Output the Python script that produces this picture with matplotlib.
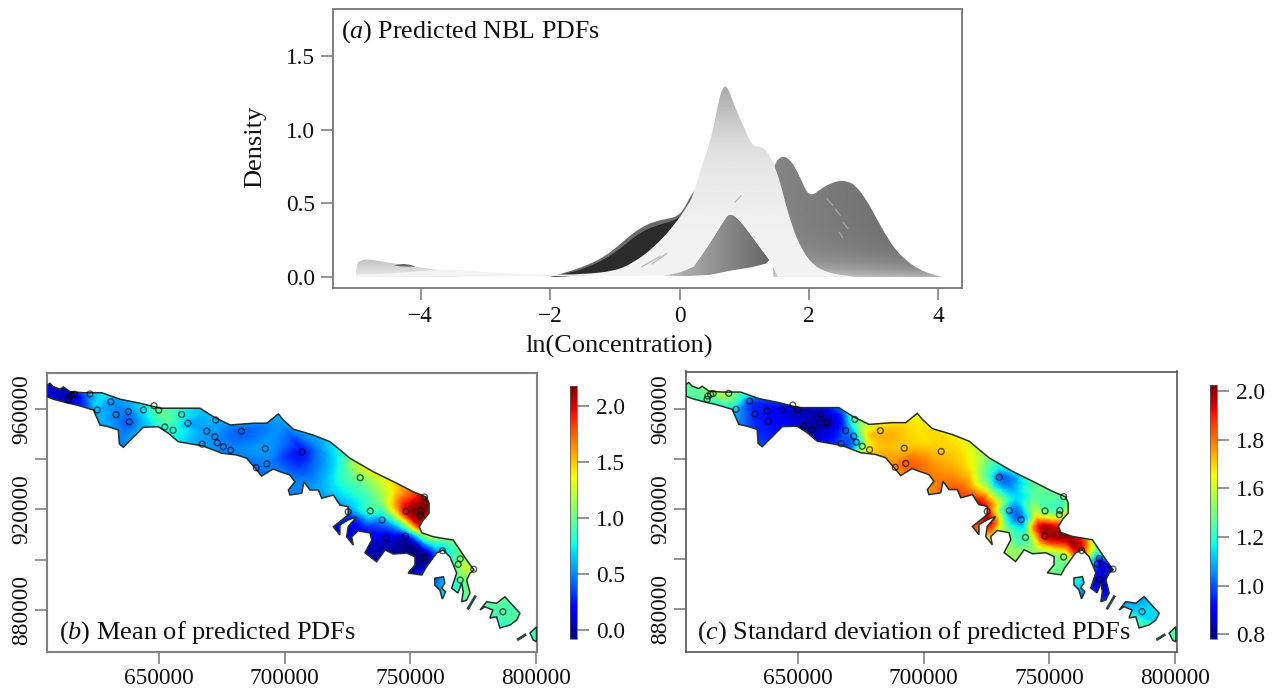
import numpy as np
import matplotlib
matplotlib.use('Agg')
import matplotlib.pyplot as plt
from matplotlib.path import Path
from matplotlib.patches import PathPatch
from matplotlib.tri import Triangulation, CubicTriInterpolator, UniformTriRefiner

plt.rcParams['font.family'] = ['Liberation Serif', 'DejaVu Serif']
plt.rcParams['mathtext.fontset'] = 'custom'
plt.rcParams['mathtext.rm'] = 'Liberation Serif'
plt.rcParams['mathtext.it'] = 'Liberation Serif:italic'

W, H = 1279, 696

# Panel a: curve edges (ln concentration, density)
left_hump_x = [-5.0, -5.0, -4.92, -4.81, -4.6, -4.4, -4.1, -3.84, -3.6, -3.4]
left_hump_y = [0.0, 0.09, 0.115, 0.12, 0.105, 0.09, 0.07, 0.054, 0.04, 0.02]
left_dark_x = [-4.42, -4.3, -4.18, -4.05, -4.2, -4.32]
left_dark_y = [0.08, 0.09, 0.085, 0.068, 0.07, 0.072]

dark_x = [-2.0, -1.66, -1.4, -1.16, -0.95, -0.72, -0.55, -0.41, -0.2, -0.03, 0.08, 0.15, 0.25]
dark_y = [0.0, 0.043, 0.085, 0.138, 0.21, 0.298, 0.345, 0.373, 0.395, 0.41, 0.47, 0.535, 0.6]
dark_in_y = [0.0, 0.03, 0.07, 0.12, 0.18, 0.265, 0.315, 0.34, 0.37, 0.39, 0.45, 0.51, 0.58]
dark_base_x = [0.25, -0.3, -1.0]
dark_base_y = [0.3, 0.15, 0.02]

right_x = [1.45, 1.42, 1.5, 1.56, 1.62, 1.7, 1.78, 1.88, 1.97, 2.06, 2.16, 2.28, 2.4, 2.5, 2.62, 2.72, 2.88, 3.03, 3.18, 3.34, 3.52, 3.72, 3.9, 4.06]
right_y = [0.0, 0.7, 0.79, 0.81, 0.82, 0.795, 0.75, 0.66, 0.57, 0.555, 0.59, 0.624, 0.645, 0.655, 0.645, 0.62, 0.53, 0.41, 0.29, 0.183, 0.105, 0.047, 0.018, 0.0]

tri_top_x = [-0.25, 0.0, 0.22, 0.47, 0.66, 0.78, 0.97, 1.16, 1.39]
tri_top_y = [0.01, 0.03, 0.07, 0.23, 0.365, 0.443, 0.365, 0.25, 0.115]
tri_low_x = [1.33, 1.1, 0.79, 0.47, 0.1]
tri_low_y = [0.09, 0.065, 0.043, 0.014, 0.006]

band_x = [-5.0, -4.4, -4.0, -3.53, -2.91, -1.97, -1.5, -1.0, -0.72, -0.41, -0.1, 0.15, 0.22, 0.34, 0.5, 0.6, 0.66, 0.72, 0.78, 0.84, 0.97, 1.12, 1.22, 1.31, 1.4, 1.5, 1.58, 1.65, 1.74, 1.83, 2.02, 2.28, 2.72]
band_y = [0.015, 0.025, 0.04, 0.055, 0.027, 0.015, 0.018, 0.04, 0.095, 0.195, 0.34, 0.5, 0.57, 0.75, 0.95, 1.19, 1.28, 1.3, 1.25, 1.17, 1.04, 0.89, 0.885, 0.875, 0.82, 0.72, 0.6, 0.477, 0.35, 0.24, 0.095, 0.027, 0.0]

# short streaks seen inside the curve bundle
streak_dark_x = [[2.28, 2.36], [2.41, 2.48], [2.53, 2.6], [2.47, 2.52]]
streak_dark_y = [[0.53, 0.49], [0.46, 0.42], [0.37, 0.33], [0.30, 0.27]]
streak_light_x = [[-0.58, -0.3], [-0.42, -0.2], [0.86, 0.95]]
streak_light_y = [[0.07, 0.14], [0.09, 0.16], [0.51, 0.55]]

# Panels b, c: coast and islands, km on the map grid
coast_x = [605.5, 606.6, 607.9, 610.6, 611.9, 614.6, 619.9, 627.2, 634.5, 642.4, 650.4, 666.3, 671.6, 678.3, 687.5, 692.9, 697.5, 699.5, 703.5, 711.3, 718.1, 726, 735.3, 744.6, 751.2, 756.5, 757.5, 757.5, 755.2, 753.6, 754.6, 759.2, 767.1, 769.8, 772.5, 775.4, 773.8, 772.5, 773.8, 772.5, 770.5, 771.1, 770.5, 769, 766.5, 768.5, 765.8, 763.1, 760.5, 756.5, 754.6, 749.2, 751.9, 751.9, 748.6, 743.3, 740, 736.6, 732, 734.7, 734, 729.3, 726.7, 727.3, 724.7, 725.3, 728.7, 725.3, 722, 722, 719.4, 725.3, 725.3, 722, 719.4, 714.8, 713.4, 710.1, 707.7, 706.8, 702.1, 701.5, 704.1, 702.1, 698.2, 695.4, 690.9, 684.9, 680.9, 675, 667.5, 657.7, 653.7, 649.7, 643.8, 635.8, 634.2, 633.8, 629.8, 626.5, 623.9, 617.2, 613.9, 607.9, 605.5]
coast_y = [969.8, 970.5, 969.1, 968.1, 969, 967.1, 966.7, 966.7, 964.1, 962.5, 960.5, 960.5, 957.1, 953.8, 954.5, 954.5, 958.2, 955.8, 952.1, 949.8, 947.1, 940.5, 935.1, 930.5, 927.1, 924.9, 922.5, 918.5, 915.8, 913.1, 910.7, 909.1, 907.8, 903.8, 899.8, 895.8, 894.5, 891.8, 886.6, 883.8, 883.1, 887.1, 890.6, 886.6, 888.6, 894.6, 901.1, 903.8, 902.6, 897.1, 893.8, 894.6, 897.8, 901.1, 902.6, 902.2, 903.8, 899.1, 902.7, 907.8, 910.6, 911.5, 909.1, 905.8, 909.1, 913.1, 917.1, 915.8, 913.8, 909.8, 913.1, 917.8, 921.1, 921.8, 925.8, 924.5, 927.8, 927.8, 931.1, 926.5, 925.8, 927.8, 931.1, 933.8, 935.1, 936.2, 933.4, 940.5, 941.8, 942.5, 945.4, 947.1, 950.5, 953.1, 952.9, 944.9, 946.2, 951.8, 953.1, 953.8, 959.8, 961.8, 962.5, 964.1, 965.1]
islet_x = [759.8, 763.2, 763.8, 762.5, 764.1, 762.8, 761.8, 759.8]
islet_y = [892.5, 893.1, 890.6, 888.6, 887.1, 884.2, 887.8, 889.8]
east_x = [777.8, 780.4, 784.4, 787.7, 793.7, 792.4, 789.7, 785.7, 784.4, 781.7, 782.9, 779.7]
east_y = [879.8, 883.1, 882.5, 885.1, 878.5, 875.8, 873.8, 872.6, 877.1, 876.6, 879.8, 881.1]
far_x = [797.7, 800.3, 800.3, 799]
far_y = [870.6, 873.1, 867.1, 867.8]
sliver1_x = [773.1, 775.8]
sliver1_y = [880.5, 885.1]
sliver2_x = [793, 795.7]
sliver2_y = [868.1, 869.8]

# sampling sites
site_x = [613.9, 614.2, 615.3, 616.3, 622.5, 630.8, 625.4, 632.9, 637.8, 638.2, 643.8, 648, 649.9, 652.3, 655.6, 659, 661.5, 669, 672.2, 673.2, 672.6, 667.2, 675.6, 678.5, 682.8, 692.3, 692.9, 688.7, 707, 730.1, 734.1, 738.8, 740.5, 748.2, 748.3, 754.2, 754, 755.7, 755.7, 762.9, 769.9, 769.1, 775.3, 769.9, 725.3, 786.9]
site_y = [963.8, 965.1, 965.8, 966.1, 966.2, 963.1, 959.8, 957.9, 959.1, 955.1, 959.8, 961.5, 959.7, 953, 951.7, 958, 954.5, 951.3, 949.1, 946.7, 955.8, 946.1, 945.1, 943.7, 951.3, 944.3, 938.2, 936.7, 943, 932.7, 919.4, 915.8, 908.7, 909.3, 919.3, 919.5, 917.8, 925, 900.9, 903.5, 900.3, 898.1, 896.1, 891.8, 919.1, 879.1]

# surface values read at points along the coast strip, with a few outside it
field_x = [605, 612, 616, 620, 624, 627, 631, 625, 633, 638, 638, 635, 644, 645, 650, 653, 656, 660, 662, 667, 669, 672, 673, 678, 678, 683, 692, 698, 692, 688, 700, 707, 710, 704, 714, 720, 716, 726, 730, 730, 724, 727, 723, 727, 732, 734, 739, 737, 744, 746, 741, 735, 748, 745, 750, 756, 748, 744, 746, 752, 757, 754, 754, 757, 763, 762, 767, 770, 772, 776, 769, 768, 773, 762, 786, 793, 799, 600, 600, 660, 730, 770, 810, 810, 720, 660, 780]
field_y = [967, 965, 965, 965, 963, 965, 963, 958, 957, 959, 955, 948, 960, 954, 960, 956, 952, 958, 954, 958, 951, 955, 947, 950, 944, 951, 944, 955, 938, 937, 947, 943, 936, 930, 944, 940, 927, 933, 937, 932.7, 921, 915, 912, 908, 912, 919, 916, 925, 928, 932, 908, 903, 909, 903, 897, 901, 919, 920, 913, 926, 924, 919, 913, 909, 906, 902, 905, 900, 897, 895, 895, 890, 885, 890, 879, 875, 870, 975, 945, 975, 975, 935, 890, 860, 880, 930, 880]
mean_vals = [0.15, 0.05, 0.1, 0.35, 0.65, 0.70, 0.55, 0.6, 0.5, 0.5, 0.42, 0.5, 0.72, 0.65, 0.95, 0.95, 0.8, 0.75, 0.6, 0.62, 0.55, 0.6, 0.52, 0.45, 0.5, 0.42, 0.55, 0.55, 0.5, 0.45, 0.45, 0.25, 0.42, 0.5, 0.52, 0.7, 0.6, 0.95, 1.25, 1.05, 0.55, 0.2, 0.15, 0.1, 0.25, 0.85, 0.6, 1.05, 1.45, 1.55, 0.1, 0.02, 0.15, -0.02, -0.02, -0.05, 1.95, 1.5, 0.7, 1.85, 2.15, 2.2, 1.85, 1.1, 0.8, 0.55, 0.9, 1.05, 1.25, 1.3, 1.05, 0.8, 1.0, 0.55, 0.9, 0.95, 0.9, 0.1, 0.1, 0.7, 1.3, 2.1, 0.9, 0.9, 0.1, 0.5, 0.9]
sd_vals = [1.35, 1.35, 1.38, 1.45, 1.35, 1.30, 1.05, 1.15, 0.98, 0.95, 0.95, 1.0, 0.92, 0.92, 0.85, 0.85, 0.82, 0.85, 0.82, 1.0, 1.05, 1.3, 1.15, 1.62, 1.58, 1.66, 1.66, 1.6, 1.78, 1.72, 1.62, 1.65, 1.7, 1.75, 1.62, 1.55, 1.8, 1.3, 1.25, 1.08, 1.92, 1.9, 1.8, 1.6, 1.45, 1.15, 1.1, 1.2, 1.35, 1.4, 1.35, 1.45, 1.92, 1.45, 1.4, 1.45, 1.4, 1.45, 1.92, 1.35, 1.35, 1.35, 1.9, 2.0, 1.9, 1.85, 1.55, 1.0, 0.85, 0.88, 0.95, 0.9, 0.95, 1.2, 1.2, 1.2, 1.35, 1.35, 1.35, 1.6, 1.3, 1.3, 1.3, 1.3, 1.5, 1.2, 1.2]

x_ticks = [650000, 700000, 750000, 800000]
y_ticks = [880000, 900000, 920000, 940000, 960000]
y_labels = ['880000', '', '920000', '', '960000']
mean_ticks = [0.0, 0.5, 1.0, 1.5, 2.0]
mean_labels = ['0.0', '0.5', '1.0', '1.5', '2.0']
sd_labels = ['0.8', '1.0', '1.2', '1.6', '1.8', '2.0']
sd_ticks = [0.8, 1.04, 1.28, 1.52, 1.76, 2.0]


def make_axes(left, top, right, bottom):
	return fig.add_axes([left / W, 1 - bottom / H, (right - left) / W, (bottom - top) / H])


def style_axes(ax, colour, width):
	for s in ax.spines.values():
		s.set_color(colour)
		s.set_linewidth(width)
	ax.tick_params(length=8.5, width=1.1, color='#777777', labelsize=16.8, labelcolor='#111111')


def curve_path(top_x, top_y, rest_x, rest_y):
	# the read points act as bezier controls so the curve edge comes out round
	verts = [(top_x[0], top_y[0])]
	codes = [Path.MOVETO]
	for i in range(1, len(top_x) - 1):
		verts.append((top_x[i], top_y[i]))
		codes.append(Path.CURVE3)
		verts.append(((top_x[i] + top_x[i + 1]) / 2, (top_y[i] + top_y[i + 1]) / 2))
		codes.append(Path.CURVE3)
	verts.append((top_x[-1], top_y[-1]))
	codes.append(Path.LINETO)
	for a, b in zip(rest_x, rest_y):
		verts.append((a, b))
		codes.append(Path.LINETO)
	verts.append((top_x[0], top_y[0]))
	codes.append(Path.CLOSEPOLY)
	return Path(verts, codes)


def flat_patch(ax, path, grey):
	ax.add_patch(PathPatch(path, fc=grey, ec='none', lw=0))


def grad_patch(ax, path, grey):
	# grey image clipped to the curve, for the shading inside it
	patch = PathPatch(path, fc='none', ec='none', transform=ax.transData)
	ax.add_patch(patch)
	xs = path.vertices[:, 0]
	ys = path.vertices[:, 1]
	im = ax.imshow(grey, extent=(xs.min(), xs.max(), ys.min(), ys.max()), origin='lower', aspect='auto',
		cmap='gray', vmin=0, vmax=1, interpolation='bilinear', zorder=patch.get_zorder())
	im.set_clip_path(patch)


def draw_map(ax, vals, vmin, vmax):
	tri = Triangulation(field_x, field_y)
	interp = CubicTriInterpolator(tri, np.array(vals, dtype=float), kind='geom')
	fine, fine_z = UniformTriRefiner(tri).refine_field(np.array(vals, dtype=float), triinterpolator=interp, subdiv=3)
	fine_m = Triangulation(fine.x * 1000.0, fine.y * 1000.0, fine.triangles)
	mesh = ax.tripcolor(fine_m, np.clip(fine_z, vmin, vmax), shading='gouraud', cmap='jet', vmin=vmin, vmax=vmax)

	verts = []
	codes = []
	for px, py in [(coast_x, coast_y), (islet_x, islet_y), (east_x, east_y), (far_x, far_y)]:
		pts = [(a * 1000.0, b * 1000.0) for a, b in zip(px, py)]
		verts += pts + [pts[0]]
		codes += [Path.MOVETO] + [Path.LINETO] * (len(pts) - 1) + [Path.CLOSEPOLY]
	outline = PathPatch(Path(verts, codes), fc='none', ec='#26302a', lw=1.1, transform=ax.transData, zorder=3)
	ax.add_patch(outline)
	mesh.set_clip_path(outline)
	for sx, sy in [(sliver1_x, sliver1_y), (sliver2_x, sliver2_y)]:
		ax.plot(np.array(sx) * 1000.0, np.array(sy) * 1000.0, color='#2c4a44', lw=2, zorder=3)
	ax.scatter(np.array(site_x) * 1000.0, np.array(site_y) * 1000.0, s=18, facecolors='none', edgecolors='black',
		linewidths=1.0, alpha=0.65, zorder=4)
	ax.set_xticks(x_ticks)
	ax.set_xticklabels([str(t) for t in x_ticks])
	ax.set_yticks(y_ticks)
	ax.set_yticklabels(y_labels, rotation=90, va='center')
	ax.tick_params(axis='x', pad=3)
	ax.tick_params(axis='y', pad=2)
	return mesh


def draw_bar(left, top, right, bottom, mesh, ticks, labels):
	cax = make_axes(left, top, right, bottom)
	cb = fig.colorbar(mesh, cax=cax)
	cb.outline.set_edgecolor('#555555')
	cb.outline.set_linewidth(0.5)
	cb.set_ticks(ticks)
	cb.set_ticklabels(labels)
	cax.tick_params(length=8.5, width=1.1, color='#777777', labelsize=16.8, pad=5, labelcolor='#111111')


fig = plt.figure(figsize=(W / 100, H / 100), dpi=100, facecolor='white')

# Panel a
ax = make_axes(332.7, 9, 962, 288.3)
style_axes(ax, '#777777', 1.3)

gxx, gyy = np.meshgrid(np.linspace(0, 1, 80), np.linspace(0, 1, 120))

grad_patch(ax, curve_path(left_hump_x, left_hump_y, [-3.4], [0.0]), 0.92 - 0.17 * gyy)
flat_patch(ax, curve_path(left_dark_x, left_dark_y, [], []), '0.40')

flat_patch(ax, curve_path(dark_x, dark_y, dark_base_x, dark_base_y), '0.42')
flat_patch(ax, curve_path(dark_x, dark_in_y, dark_base_x, dark_base_y), '0.17')

# right hump, darker to the right, lighter near the baseline
grad_patch(ax, curve_path(right_x, right_y, [], []), np.clip(0.52 - 0.12 * gxx + 0.28 * np.exp(-gyy * 9), 0, 1))
for sx, sy in zip(streak_dark_x, streak_dark_y):
	ax.plot(sx, sy, color='0.62', lw=1.1)

# mid grey wedge under the light band
grad_patch(ax, curve_path(tri_top_x, tri_top_y, tri_low_x, tri_low_y), 0.74 - 0.34 * gxx)

# light band on top of everything, grey towards the peak
band_path = curve_path(band_x, band_y, [1.62, 1.52, 1.45] + tri_top_x[::-1] + [-5.0], [0.0, 0.0, 0.06] + tri_top_y[::-1] + [0.0])
grad_patch(ax, band_path, np.interp(gyy, [0, 0.3, 0.55, 0.68, 0.8, 1.0], [0.95, 0.94, 0.91, 0.87, 0.8, 0.66]))
for sx, sy in zip(streak_light_x, streak_light_y):
	ax.plot(sx, sy, color='0.74', lw=1.0)

ax.set_xlim(-5.362, 4.366)
ax.set_ylim(-0.077, 1.819)
ax.set_xticks([-4, -2, 0, 2, 4])
ax.set_xticklabels(['\u22124', '\u22122', '0', '2', '4'])
ax.set_yticks([0.0, 0.5, 1.0, 1.5])
ax.set_yticklabels(['0.0', '0.5', '1.0', '1.5'])
ax.tick_params(axis='x', pad=4)
ax.tick_params(axis='y', pad=4)
fig.text(619 / W, 1 - 346 / H, 'ln(Concentration)', ha='center', va='center', fontsize=19, color='#111111')
fig.text(255 / W, 1 - 147 / H, 'Density', ha='center', va='center', rotation=90, fontsize=19, color='#111111')
fig.text(341 / W, 1 - 32 / H, r'($\mathit{a}$) Predicted NBL PDFs', ha='left', va='center', fontsize=18.7, color='#111111')

# Panel b
axb = make_axes(47, 372.7, 537.3, 652.3)
style_axes(axb, '#808080', 1.5)
mesh_b = draw_map(axb, mean_vals, -0.08, 2.175)
axb.set_xlim(605400, 800600)
axb.set_ylim(862900, 974700)
draw_bar(570, 386, 577, 639, mesh_b, mean_ticks, mean_labels)
fig.text(59 / W, 1 - 633 / H, r'($\mathit{b}$) Mean of predicted PDFs', ha='left', va='center', fontsize=19, color='#111111')

# Panel c
axc = make_axes(686, 371.5, 1177.3, 652.3)
style_axes(axc, '#555555', 1.2)
mesh_c = draw_map(axc, sd_vals, 0.777, 2.03)
axc.set_xlim(605500, 800900)
axc.set_ylim(862900, 974900)
draw_bar(1210, 385, 1217, 639, mesh_c, sd_ticks, sd_labels)
fig.text(697 / W, 1 - 633 / H, r'($\mathit{c}$) Standard deviation of predicted PDFs', ha='left', va='center', fontsize=19, color='#111111')

fig.savefig('out.png', dpi=100)
